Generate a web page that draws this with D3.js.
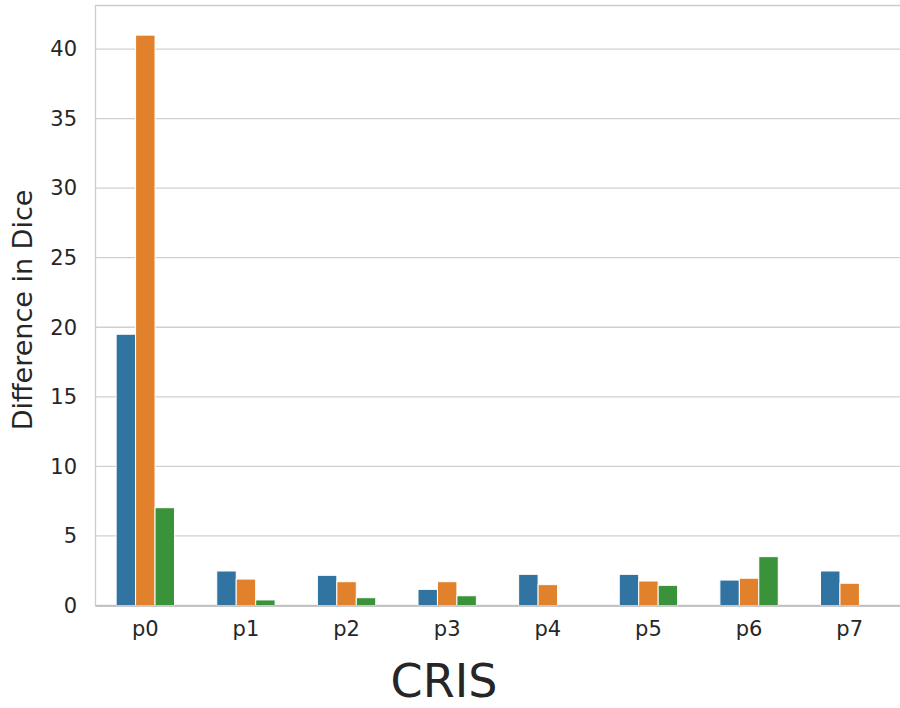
<!DOCTYPE html>
<html>
<head>
<meta charset="utf-8">
<script src="https://cdn.jsdelivr.net/npm/d3@7"></script>
<style>
  body { margin: 0; background: #fff; }
  text { font-family: "DejaVu Sans", sans-serif; fill: #262626; }
</style>
</head>
<body>
<div id="chart"></div>
<script>
const WIDTH = 900;
const HEIGHT = 708;

// valeurs
const categories = ["p0", "p1", "p2", "p3", "p4", "p5", "p6", "p7"];
const hues = ["s1", "s2", "s3"];
const blueVals = [19.5, 2.48, 2.17, 1.16, 2.24, 2.24, 1.83, 2.48];
const orangeVals = [41.0, 1.9, 1.71, 1.71, 1.5, 1.76, 1.96, 1.6];
const greenVals = [7.03, 0.4, 0.56, 0.7, 0, 1.45, 3.51, 0];
const yTicks = [0, 5, 10, 15, 20, 25, 30, 35, 40];
const colors = ["#3274a1", "#e1812c", "#3a923a"];

const series = [blueVals, orangeVals, greenVals];
const rows = [];
categories.forEach((c, i) => {
  hues.forEach((h, j) => rows.push({ cat: c, hue: h, value: series[j][i] }));
});

const PLOT_L = 95, PLOT_R = 900, PLOT_T = 5.5, PLOT_B = 605.5;

const svg = d3.select("#chart")
  .append("svg")
  .attr("width", WIDTH)
  .attr("height", HEIGHT);

const x = d3.scaleBand().domain(categories).range([PLOT_L, PLOT_R]).paddingInner(0.42).paddingOuter(0.21);
const xHue = d3.scaleBand().domain(hues).range([0, x.bandwidth()]);
const y = d3.scaleLinear().domain([0, 43.13]).range([PLOT_B, PLOT_T]);

// grille
svg.append("g")
  .selectAll("line")
  .data(yTicks)
  .enter()
  .append("line")
  .attr("x1", PLOT_L)
  .attr("x2", PLOT_R)
  .attr("y1", d => y(d))
  .attr("y2", d => y(d))
  .attr("stroke", "#d0d0d0")
  .attr("stroke-width", 1.3);

// bâtons
svg.append("g")
  .selectAll("rect")
  .data(rows)
  .enter()
  .append("rect")
  .attr("x", d => x(d.cat) + xHue(d.hue))
  .attr("width", xHue.bandwidth())
  .attr("y", d => y(d.value))
  .attr("height", d => y(0) - y(d.value))
  .attr("fill", d => colors[hues.indexOf(d.hue)])
  .attr("stroke", "#fff")
  .attr("stroke-width", 1);

// axes
const yAxis = svg.append("g")
  .attr("transform", `translate(${PLOT_L},0)`)
  .call(d3.axisLeft(y).tickValues(yTicks).tickSize(0).tickPadding(18));
yAxis.select(".domain").attr("stroke", "#cccccc").attr("stroke-width", 1.3);
yAxis.selectAll("text").style("font-size", "21px").attr("fill", "#262626");

const xAxis = svg.append("g")
  .attr("transform", `translate(0,${PLOT_B})`)
  .call(d3.axisBottom(x).tickSize(0).tickPadding(16));
xAxis.select(".domain").attr("stroke", "#b8b8b8").attr("stroke-width", 1.3);
xAxis.selectAll("text").style("font-size", "21px").attr("fill", "#262626");

// bord du haut
svg.append("line")
  .attr("x1", PLOT_L).attr("x2", PLOT_R)
  .attr("y1", PLOT_T).attr("y2", PLOT_T)
  .attr("stroke", "#cccccc").attr("stroke-width", 1.3);

// titres
svg.append("text")
  .attr("transform", "translate(32,310) rotate(-90)")
  .attr("text-anchor", "middle")
  .style("font-size", "27px")
  .text("Difference in Dice");

svg.append("text")
  .attr("x", 444)
  .attr("y", 697)
  .attr("text-anchor", "middle")
  .style("font-size", "46px")
  .text("CRIS");
</script>
</body>
</html>
